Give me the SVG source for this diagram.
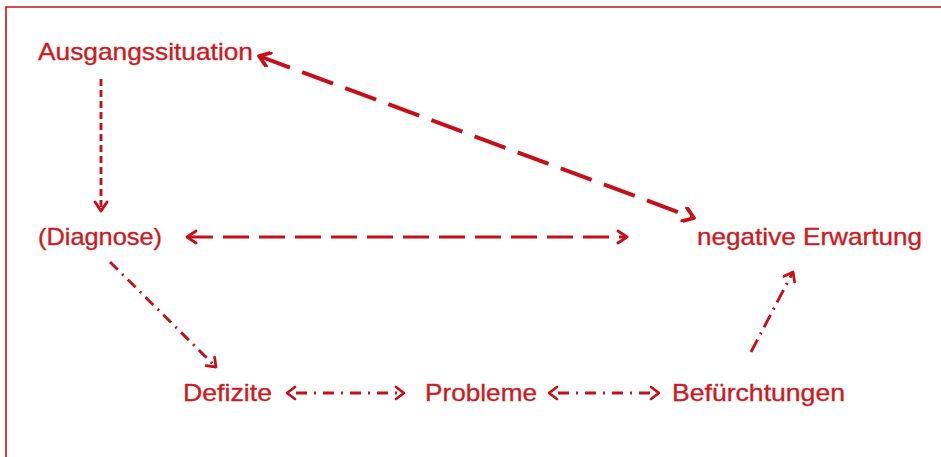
<svg xmlns="http://www.w3.org/2000/svg" width="941" height="457" viewBox="0 0 941 457">
<defs>
<style>
.t{font-family:"Liberation Sans",Arial,sans-serif;font-size:24px;fill:#cc1a22;stroke:#cc1a22;stroke-width:0.35}
.c{fill:none;stroke:#c4101a;stroke-linecap:butt}
.h{fill:none;stroke:#c4101a;stroke-linecap:round;stroke-linejoin:round}
</style>
<marker id="ah" viewBox="-12 -8 14 16" markerWidth="14" markerHeight="16" refX="0" refY="0" orient="auto-start-reverse" markerUnits="userSpaceOnUse">
<path class="h" d="M-10,-7 L0,0 L-10,7" stroke-width="3.8"/>
</marker>
<marker id="am" viewBox="-12 -8 14 16" markerWidth="14" markerHeight="16" refX="0" refY="0" orient="auto-start-reverse" markerUnits="userSpaceOnUse">
<path class="h" d="M-9,-6 L0,0 L-9,6" stroke-width="2.9"/>
</marker>
<marker id="as" viewBox="-12 -8 14 16" markerWidth="14" markerHeight="16" refX="0" refY="0" orient="auto-start-reverse" markerUnits="userSpaceOnUse">
<path class="h" d="M-8,-6 L0,0 L-8,6" stroke-width="2.8"/>
</marker>
</defs>
<rect width="941" height="457" fill="#ffffff"/>
<path d="M6,460 L6,7 L945,7" fill="none" stroke="#c4101a" stroke-width="1.6"/>

<g id="connectors">
<line class="c" x1="101" y1="79" x2="101" y2="211" stroke-width="2.9" stroke-dasharray="7 4" marker-end="url(#am)"/>
<line class="c" x1="259" y1="56" x2="694" y2="218" stroke-width="4" stroke-dasharray="33 13" marker-start="url(#ah)" marker-end="url(#ah)"/>
<line class="c" x1="187" y1="237" x2="627" y2="237" stroke-width="2.9" stroke-dasharray="26 10" marker-start="url(#am)" marker-end="url(#am)"/>
<line class="c" x1="110" y1="262" x2="216" y2="367" stroke-width="2.9" stroke-dasharray="11 6 2 6" marker-end="url(#as)"/>
<line class="c" x1="287" y1="393" x2="404" y2="393" stroke-width="2.9" stroke-dasharray="2 7 11 7" marker-start="url(#as)" marker-end="url(#as)"/>
<line class="c" x1="549" y1="393" x2="659" y2="393" stroke-width="2.9" stroke-dasharray="2 7 11 7" marker-start="url(#as)" marker-end="url(#as)"/>
<line class="c" x1="751" y1="352" x2="793" y2="272" stroke-width="2.9" stroke-dasharray="14 6 2 6" marker-end="url(#as)"/>
</g>

<g id="ausgangssituation"><text class="t" x="38" y="60" textLength="215" lengthAdjust="spacingAndGlyphs">Ausgangssituation</text></g>
<g id="diagnose"><text class="t" x="38" y="245" textLength="124" lengthAdjust="spacingAndGlyphs">(Diagnose)</text></g>
<g id="negative-erwartung"><text class="t" x="697" y="245" textLength="225" lengthAdjust="spacingAndGlyphs">negative Erwartung</text></g>
<g id="defizite"><text class="t" x="183" y="401" textLength="89" lengthAdjust="spacingAndGlyphs">Defizite</text></g>
<g id="probleme"><text class="t" x="425" y="401" textLength="112" lengthAdjust="spacingAndGlyphs">Probleme</text></g>
<g id="befuerchtungen"><text class="t" x="672" y="401" textLength="173" lengthAdjust="spacingAndGlyphs">Befürchtungen</text></g>
</svg>
